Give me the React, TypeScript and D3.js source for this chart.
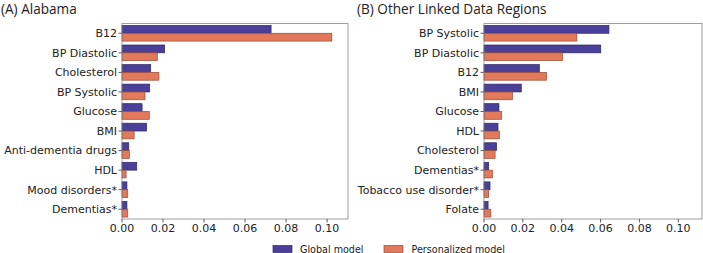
import React from "react";
import * as d3 from "d3";

const categoriesA = ["B12", "BP Diastolic", "Cholesterol", "BP Systolic", "Glucose", "BMI", "Anti-dementia drugs", "HDL", "Mood disorders*", "Dementias*"];
const globalA = [0.0727, 0.0208, 0.014, 0.0135, 0.0098, 0.012, 0.0033, 0.0072, 0.0024, 0.0024];
const personalA = [0.1023, 0.0172, 0.018, 0.0112, 0.0133, 0.0059, 0.0036, 0.002, 0.0028, 0.0028];

const categoriesB = ["BP Systolic", "BP Diastolic", "B12", "BMI", "Glucose", "HDL", "Cholesterol", "Dementias*", "Tobacco use disorder*", "Folate"];
const globalB = [0.0643, 0.0601, 0.0285, 0.0192, 0.0077, 0.0072, 0.0065, 0.0024, 0.0031, 0.0021];
const personalB = [0.0478, 0.0404, 0.0321, 0.0146, 0.0091, 0.0079, 0.0057, 0.0043, 0.0024, 0.0035];

const xTicks = [0, 0.02, 0.04, 0.06, 0.08, 0.1];
const seriesNames = ["Global model", "Personalized model"];

const BLUE = "#4a3f99";
const BLUE_EDGE = "#2e2767";
const ORANGE = "#e2795a";
const ORANGE_EDGE = "#9a4a33";
const TICK_FONT = "DejaVu Sans, sans-serif";
const TITLE_FONT = "'Open Sans', sans-serif";

type PanelProps = {
  title: string;
  titleX: number;
  cats: string[];
  g: number[];
  p: number[];
  x0: number;
  x1: number;
  xMax: number;
};

function Panel({ title, titleX, cats, g, p, x0, x1, xMax }: PanelProps) {
  const top = 23.5;
  const bottom = 219;
  const x = d3.scaleLinear().domain([0, xMax]).range([x0, x1]);
  const y = d3.scaleBand<string>().domain(cats).range([top, bottom]).paddingInner(0.2).paddingOuter(0.1);
  const bw = y.bandwidth() / 2;
  return (
    <g>
      <text x={titleX} y={13.5} fontFamily={TITLE_FONT} fontSize={13.6} fill="#222">{title}</text>
      {cats.map((c, i) => (
        <g key={c}>
          <rect x={x(0)} y={y(c)!} width={x(g[i]) - x(0)} height={bw} fill={BLUE} stroke={BLUE_EDGE} strokeWidth={0.7} />
          <rect x={x(0)} y={y(c)! + bw} width={x(p[i]) - x(0)} height={bw} fill={ORANGE} stroke={ORANGE_EDGE} strokeWidth={0.7} />
          <line x1={x0 - 3.5} x2={x0} y1={y(c)! + bw} y2={y(c)! + bw} stroke="#333" strokeWidth={0.8} />
          <text x={x0 - 5} y={y(c)! + bw} dy="0.35em" textAnchor="end" fontFamily={TICK_FONT} fontSize={11} fill="#222">{c}</text>
        </g>
      ))}
      <rect x={x0} y={top} width={x1 - x0} height={bottom - top} fill="none" stroke="#888" strokeWidth={0.8} />
      {xTicks.map((t) => (
        <g key={t}>
          <line x1={x(t)} x2={x(t)} y1={bottom} y2={bottom + 3.5} stroke="#333" strokeWidth={0.8} />
          <text x={x(t)} y={bottom + 12.5} textAnchor="middle" fontFamily={TICK_FONT} fontSize={11} fill="#222">{t.toFixed(2)}</text>
        </g>
      ))}
    </g>
  );
}

export default function App() {
  return (
    <svg width={703} height={253} style={{ position: "absolute", left: 0, top: 0 }}>
      <rect width={703} height={253} fill="#fff" />
      <Panel title="(A) Alabama" titleX={1} cats={categoriesA} g={globalA} p={personalA} x0={122} x1={348} xMax={0.1102} />
      <Panel title="(B) Other Linked Data Regions" titleX={357} cats={categoriesB} g={globalB} p={personalB} x0={484} x1={702} xMax={0.1122} />
      <g>
        <rect x={273} y={245.5} width={19} height={7} fill={BLUE} stroke={BLUE_EDGE} strokeWidth={0.7} />
        <text x={300} y={252.5} fontFamily={TICK_FONT} fontSize={9.6} fill="#222">{seriesNames[0]}</text>
        <rect x={384} y={245.5} width={19} height={7} fill={ORANGE} stroke={ORANGE_EDGE} strokeWidth={0.7} />
        <text x={411.5} y={252.5} fontFamily={TICK_FONT} fontSize={9.6} fill="#222">{seriesNames[1]}</text>
      </g>
    </svg>
  );
}
